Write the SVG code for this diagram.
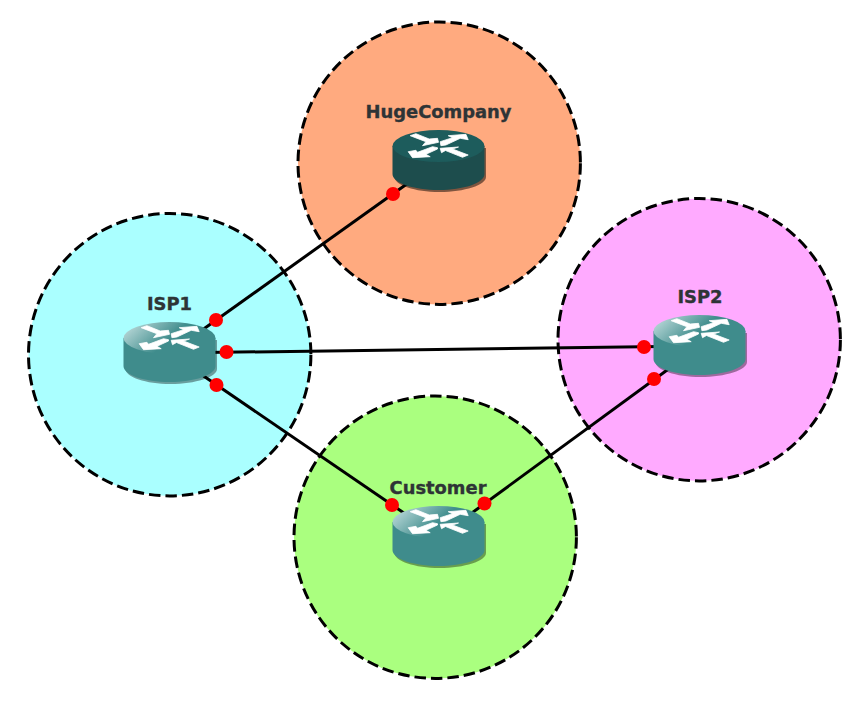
<svg xmlns="http://www.w3.org/2000/svg" xmlns:xlink="http://www.w3.org/1999/xlink" width="864" height="702" viewBox="0 0 864 702">
<style>
.zone{stroke:#000;stroke-width:3;stroke-dasharray:11.500 5}
.label{font-family:"DejaVu Sans",sans-serif;font-weight:700;font-size:17.900px;fill:#2e3436;stroke:#2e3436;stroke-width:.35;text-anchor:middle}
.link{stroke:#000;stroke-width:3;fill:none}
.dot{fill:#f00}
.arrow{fill:#fff;stroke:#fff;stroke-width:.8;stroke-linejoin:round}
</style>
<defs>
<linearGradient id="topTeal" x1="0" y1="0.2" x2="1" y2="0.6">
<stop offset="0" stop-color="#bcdada"/><stop offset="0.55" stop-color="#3f8c8c"/><stop offset="1" stop-color="#3f8c8c"/>
</linearGradient>
<g id="arrows">
<path class="arrow" d="M17.700 5.700 23.400 3.700 36.700 9 45 8.300 46 12.300 30 15.700 33.400 11.700Z"/>
<path class="arrow" d="M47.700 11.700 60 7.700 55.700 5.700 73.400 4.300 75.700 9.700 67.700 8.300 53.400 15 48.400 15.700Z"/>
<path class="arrow" d="M45 17.700 40 16.700 25 22.300 23.400 20.300 15.700 21.700 20 27.700 37.700 26.700 33.400 24.300 45 19Z"/>
<path class="arrow" d="M47.700 18.300 66 17 60 19 75.700 25 70 27.300 53 20.500 49 22.700Z"/>
</g>
<g id="routerTeal">
<path fill="#000" fill-opacity=".38" d="M2 18V47C2 55 22 62 47 62S93.500 55 93.500 47V18Z"/>
<path fill="#3f8c8c" d="M0 16V44C0 53 21 60 46 60S92 53 92 44V16Z"/>
<ellipse cx="46" cy="16" rx="46" ry="16" fill="url(#topTeal)"/>
<use xlink:href="#arrows" href="#arrows"/>
</g>
<g id="routerDark">
<path fill="#000" fill-opacity=".5" d="M2 18V47C2 55 22 62 47 62S93.500 55 93.500 47V18Z"/>
<path fill="#1d4d4d" d="M0 16V44C0 53 21 60 46 60S92 53 92 44V16Z"/>
<ellipse cx="46" cy="16" rx="46" ry="16" fill="#1d5c5c"/>
<use xlink:href="#arrows" href="#arrows"/>
</g>
</defs>
<rect width="864" height="702" fill="#fff"/>
<g id="zones">
<circle id="zone-hugecompany" class="zone" cx="439.200" cy="163.200" r="141.200" fill="#ffaa7f"/>
<circle id="zone-isp1" class="zone" cx="169.700" cy="354.700" r="141.200" fill="#aaffff"/>
<circle id="zone-isp2" class="zone" cx="699.200" cy="339.700" r="141.200" fill="#ffaaff"/>
<circle id="zone-customer" class="zone" cx="435.200" cy="537.200" r="141.200" fill="#aaff7f"/>
</g>
<g id="connectors">
<line class="link" x1="170" y1="353" x2="439" y2="161"/>
<line class="link" x1="170" y1="353" x2="700" y2="346"/>
<line class="link" x1="170" y1="353" x2="439" y2="537"/>
<line class="link" x1="700" y1="346" x2="439" y2="537"/>
</g>
<g id="node-hugecompany"><use xlink:href="#routerDark" href="#routerDark" x="392.500" y="130"/><text class="label" x="438.500" y="118">HugeCompany</text></g>
<g id="node-isp1"><use xlink:href="#routerTeal" href="#routerTeal" x="123.500" y="322"/><text class="label" x="169.500" y="310">ISP1</text></g>
<g id="node-isp2"><use xlink:href="#routerTeal" href="#routerTeal" x="653.500" y="315"/><text class="label" x="700" y="303">ISP2</text></g>
<g id="node-customer"><use xlink:href="#routerTeal" href="#routerTeal" x="392.500" y="506"/><text class="label" x="438" y="494">Customer</text></g>
<g id="endpoints">
<circle class="dot" cx="393" cy="194" r="7"/>
<circle class="dot" cx="216" cy="320" r="7"/>
<circle class="dot" cx="226.500" cy="352" r="7"/>
<circle class="dot" cx="216.500" cy="385" r="7"/>
<circle class="dot" cx="644" cy="347" r="7"/>
<circle class="dot" cx="654" cy="379" r="7"/>
<circle class="dot" cx="392" cy="505" r="7"/>
<circle class="dot" cx="484.500" cy="503.500" r="7"/>
</g>
</svg>
